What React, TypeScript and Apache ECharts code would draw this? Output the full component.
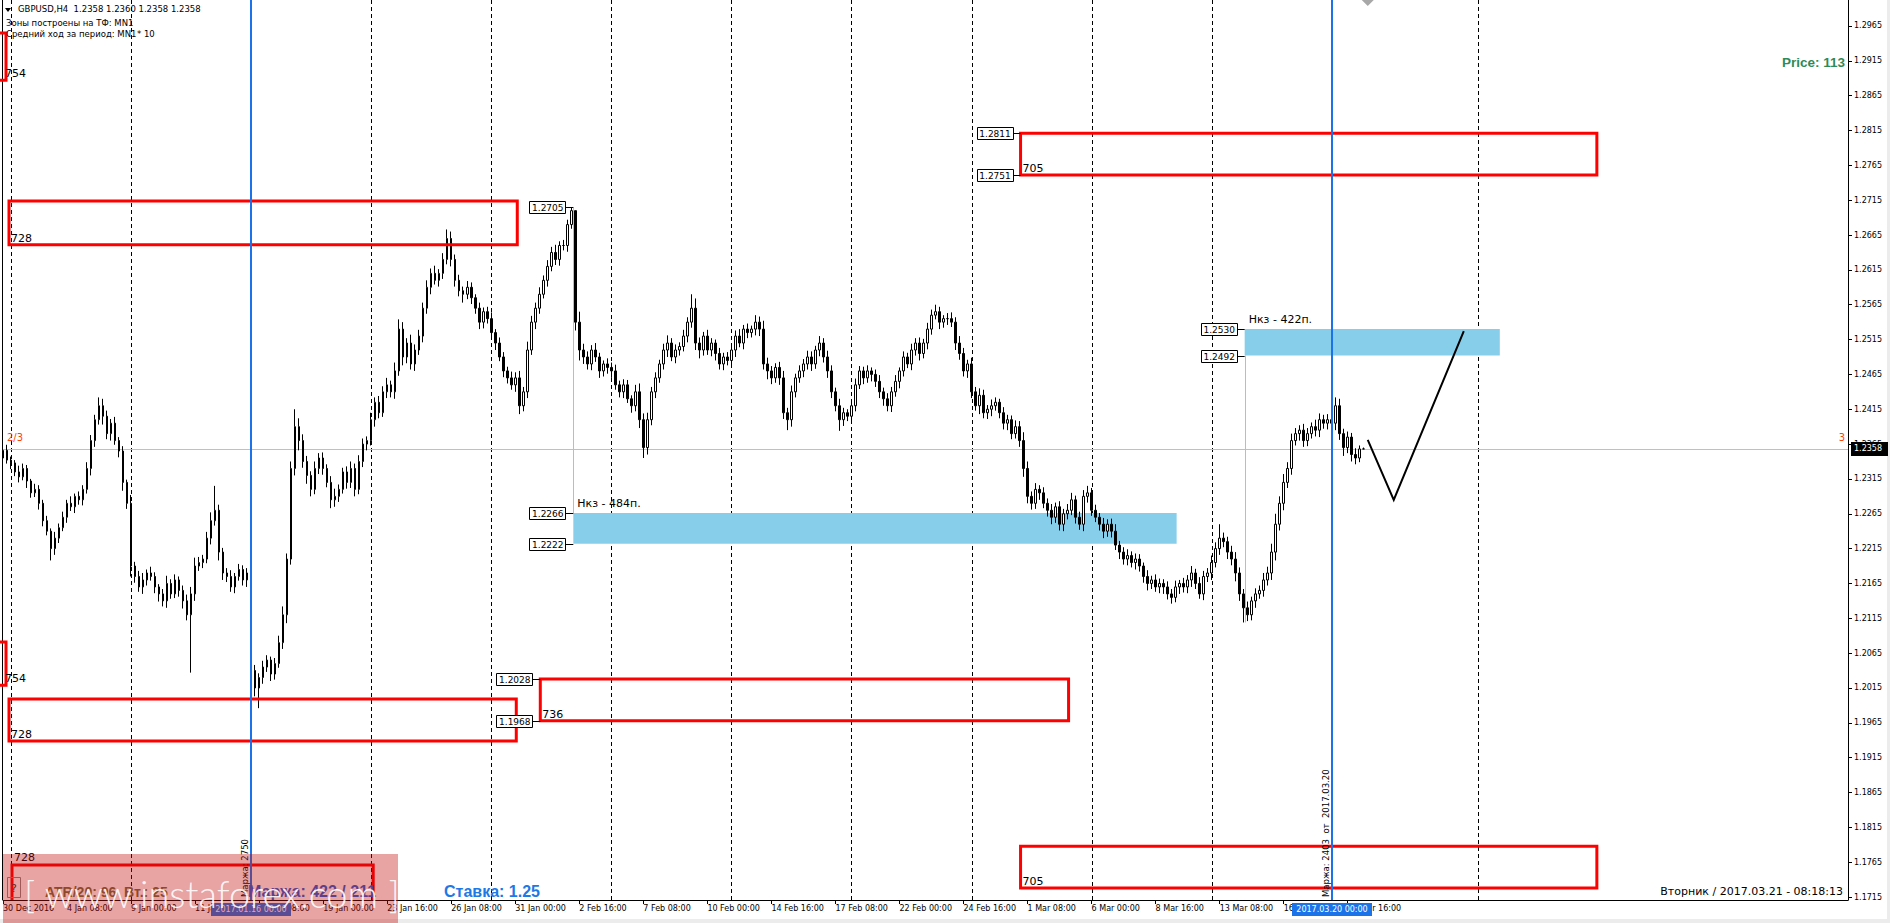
import React, { useEffect, useRef } from 'react';
import * as echarts from 'echarts';

// ---------- data ----------
const FIRST_OPEN = 2345; // pips over 1.0000
const CLOSES = [
  2356,2342,2338,2325,2318,2330,2312,2295,2300,2280,
  2255,2240,2215,2230,2245,2260,2280,2275,2290,2285,
  2300,2330,2370,2400,2420,2405,2380,2395,2370,2355,
  2310,2280,2190,2175,2160,2170,2180,2175,2160,2150,
  2140,2165,2150,2170,2155,2140,2120,2150,2190,2195,
  2200,2230,2255,2270,2210,2180,2175,2160,2175,2185,
  2170,2180,2040,2015,2030,2045,2055,2035,2050,2080,
  2120,2200,2330,2390,2370,2340,2320,2300,2330,2345,
  2330,2310,2285,2290,2300,2325,2310,2330,2300,2340,
  2365,2370,2400,2425,2410,2440,2450,2440,2470,2530,
  2490,2510,2480,2500,2520,2560,2590,2610,2600,2610,
  2630,2660,2630,2600,2585,2580,2590,2575,2560,2540,
  2555,2545,2525,2510,2490,2470,2460,2450,2460,2420,
  2440,2500,2540,2560,2580,2600,2620,2640,2630,2650,
  2650,2680,2700,2540,2500,2490,2480,2500,2490,2470,
  2480,2475,2470,2450,2440,2450,2430,2420,2440,2400,
  2360,2400,2440,2460,2480,2500,2510,2490,2500,2505,
  2520,2540,2560,2510,2500,2520,2500,2510,2495,2480,
  2490,2485,2500,2520,2510,2530,2525,2530,2540,2530,
  2480,2470,2460,2475,2460,2410,2400,2440,2460,2470,
  2480,2490,2480,2500,2510,2490,2470,2440,2420,2400,
  2410,2405,2420,2450,2470,2460,2470,2465,2455,2440,
  2430,2420,2440,2455,2470,2490,2480,2500,2510,2495,
  2510,2530,2550,2555,2540,2545,2545,2540,2510,2495,
  2470,2480,2440,2420,2435,2410,2415,2420,2425,2410,
  2395,2400,2380,2390,2370,2330,2290,2280,2300,2295,
  2280,2270,2260,2275,2250,2265,2270,2285,2260,2250,
  2290,2295,2270,2260,2250,2240,2250,2240,2220,2210,
  2200,2205,2195,2200,2190,2175,2165,2170,2160,2165,
  2160,2150,2145,2160,2165,2160,2170,2180,2165,2150,
  2175,2180,2195,2215,2230,2225,2210,2200,2180,2150,
  2130,2120,2140,2150,2155,2170,2180,2210,2250,2280,
  2310,2330,2370,2380,2385,2370,2380,2390,2385,2400,
  2395,2400,2395,2420,2380,2360,2375,2350,2345,2358,
  2358,
];
const UP_WICKS = [
  6,8,5,4,9,7,5,3,8,6,
  5,7,4,9,6,8,5,10,4,7,
  6,9,8,7,12,10,8,6,9,5,
  7,4,12,6,8,10,5,9,6,4,
  7,11,6,8,5,7,9,10,12,8,
  6,9,12,35,8,6,7,9,5,8,
  6,7,20,8,6,9,7,5,8,10,
  12,8,10,25,12,9,8,6,10,7,
  8,6,9,11,7,6,8,10,7,9,
  8,6,10,7,9,8,10,6,12,14,
  10,7,12,8,9,8,10,7,11,6,
  9,13,10,7,8,6,9,7,5,8,
  6,7,9,5,8,7,6,9,8,10,
  7,12,9,8,10,7,9,8,11,6,
  8,7,5,0,15,9,8,7,10,6,
  5,8,7,9,6,8,7,5,10,12,
  9,10,7,8,6,9,11,7,8,6,
  9,7,20,14,8,6,9,7,5,8,
  6,7,9,8,10,6,8,5,10,8,
  12,9,7,6,8,10,7,9,6,8,
  7,9,8,6,10,7,9,8,6,10,
  7,5,8,9,7,6,8,5,7,9,
  6,8,7,9,5,8,6,9,7,8,
  6,9,8,10,7,5,8,9,7,10,
  8,6,9,7,10,8,6,9,7,5,
  8,7,6,9,8,12,10,7,9,6,
  8,7,9,6,8,7,9,10,6,8,
  9,10,7,8,6,9,7,8,10,6,
  7,9,6,8,7,5,9,6,8,7,
  6,8,7,9,5,8,7,10,6,9,
  8,7,10,9,20,8,7,9,10,8,
  7,9,6,8,7,10,9,12,15,10,
  12,9,10,8,7,9,8,6,10,9,
  7,8,9,12,10,7,8,6,9,5,
  2,
];
const DOWN_WICKS = [
  7,5,9,6,8,5,10,7,6,9,
  8,6,17,9,7,5,8,6,9,7,
  8,6,10,9,7,12,8,10,6,9,
  12,8,15,9,7,10,8,6,9,11,
  8,10,7,6,9,11,8,83,10,7,
  8,6,9,7,12,10,8,7,9,6,
  8,10,15,12,29,9,7,10,8,6,
  9,12,8,10,14,9,12,10,7,8,
  9,7,12,10,8,6,9,8,10,7,
  8,9,7,10,8,6,9,8,10,7,
  12,9,8,10,7,9,8,10,6,9,
  8,7,10,9,8,12,7,9,8,10,
  9,7,8,10,6,9,8,7,10,12,
  8,9,7,10,8,6,9,7,8,9,
  7,9,6,12,15,10,8,9,7,10,
  8,9,10,7,8,9,6,10,8,12,
  15,10,8,9,7,8,10,6,9,8,
  7,9,8,10,12,8,7,9,10,8,
  9,7,8,10,6,9,8,7,9,10,
  8,12,9,7,10,9,15,10,8,7,
  9,8,10,7,9,8,10,9,8,16,
  9,7,10,8,6,9,7,10,8,9,
  10,8,9,7,10,8,6,9,8,10,
  7,9,8,6,10,8,9,7,10,9,
  8,10,9,7,12,8,9,10,7,8,
  9,10,8,7,9,12,10,9,8,10,
  7,9,10,8,9,10,8,7,9,8,
  10,9,8,7,9,10,8,9,7,10,
  8,9,7,10,8,9,10,8,7,9,
  10,8,9,7,10,8,9,10,8,7,
  9,8,10,7,9,8,10,9,12,10,
  21,9,8,10,7,9,8,10,12,9,
  10,8,9,7,10,9,8,7,9,10,
  8,9,7,10,9,12,8,10,9,6,
  0,
];

const N_SLOTS = 462; // visible bar slots (incl. empty future)
const LABEL_STEP = 16;
const TIME_LABELS = [
  '30 Dec 2016','4 Jan 08:00','9 Jan 00:00','11 Jan 16:00','16 Jan 08:00','19 Jan 00:00',
  '23 Jan 16:00','26 Jan 08:00','31 Jan 00:00','2 Feb 16:00','7 Feb 08:00','10 Feb 00:00',
  '14 Feb 16:00','17 Feb 08:00','22 Feb 00:00','24 Feb 16:00','1 Mar 08:00','6 Mar 00:00',
  '8 Mar 16:00','13 Mar 08:00','16 Mar 00:00','20 Mar 16:00',
];
const PRICE_TICKS = [
  1.1715,1.1765,1.1815,1.1865,1.1915,1.1965,1.2015,1.2065,1.2115,1.2165,1.2215,1.2265,1.2315,
  1.2365,1.2415,1.2465,1.2515,1.2565,1.2615,1.2665,1.2715,1.2765,1.2815,1.2865,1.2915,1.2965,
];
const Y_MIN = 1.17107;
const Y_MAX = 1.30023;
const BID = 1.2358;

const RED_ZONES = [
  { label: '754', t0: -8, t1: 0.75, top: 1.2955, bottom: 1.2887, labelAt: 'bottom' },
  { label: '728', t0: 1.5, t1: 128.5, top: 1.2714, bottom: 1.2651, labelAt: 'bottom' },
  { label: '754', t0: -8, t1: 0.75, top: 1.2081, bottom: 1.2019, labelAt: 'bottom' },
  { label: '728', t0: 1.5, t1: 128.25, top: 1.1999, bottom: 1.1939, labelAt: 'bottom' },
  { label: '736', t0: 134.25, t1: 266.25, top: 1.2028, bottom: 1.1968, labelAt: 'bottom' },
  { label: '705', t0: 254.25, t1: 398.25, top: 1.2811, bottom: 1.2751, labelAt: 'bottom' },
  { label: '705', t0: 254.25, t1: 398.25, top: 1.1788, bottom: 1.1728, labelAt: 'bottom' },
  { label: '728', t0: 2.25, t1: 92.5, top: 1.1761, bottom: 1.1700, labelAt: 'top' },
];
const BLUE_ZONES = [
  { label: 'Нкз - 484п.', t0: 142.5, t1: 293.25, top: 1.2266, bottom: 1.2222, from: 1.2705 },
  { label: 'Нкз - 422п.', t0: 310.25, t1: 374, top: 1.2530, bottom: 1.2492, from: 1.2109 },
];
const PRICE_TAGS = [
  { t: 142.5, price: 1.2705 }, { t: 142.5, price: 1.2266 }, { t: 142.5, price: 1.2222 },
  { t: 134.25, price: 1.2028 }, { t: 134.25, price: 1.1968 },
  { t: 254.25, price: 1.2811 }, { t: 254.25, price: 1.2751 },
  { t: 310.25, price: 1.2530 }, { t: 310.25, price: 1.2492 },
];
const FORECAST = [[341, 1.2371], [347.5, 1.2285], [365, 1.2527]];
const SEPARATORS = [2, 32, 92, 122, 152, 182, 212, 242, 272, 302, 368.5];
const MARGIN_LINES = [
  { t: 62, date: '2017.01.16 00:00', text: 'Маржа: 2750' },
  { t: 332, date: '2017.03.20 00:00', text: 'Маржа: 2403  от  2017.03.20' },
];
const HEADER = ['GBPUSD,H4  1.2358 1.2360 1.2358 1.2358', 'Зоны построены на ТФ: MN1', 'Средний ход за период: MN1'];
const HEADER_TAIL = '* 10';
const PRICE_TEXT = 'Price: 113';
const CLOCK_TEXT = 'Вторник / 2017.03.21 - 08:18:13';
const ATR_TEXT = 'ATR/20: 96  Вт.: 25';
const MARGIN_TEXT = 'Маржа: 422 / 211';
const RATE_TEXT = 'Ставка: 1.25';
const WATERMARK = '[ www.instaforex.com ]';

// ---------- derived ----------
const CANDLES = CLOSES.map((c, i) => {
  const o = i === 0 ? FIRST_OPEN : CLOSES[i - 1];
  const hi = Math.max(o, c) + UP_WICKS[i];
  const lo = Math.min(o, c) - DOWN_WICKS[i];
  return [o, c, lo, hi].map((v) => 1 + v / 10000);
});
const SLOTS = Array.from({ length: N_SLOTS }, (_, i) => String(i));
const LAST_LABEL = (TIME_LABELS.length - 1) * LABEL_STEP;
const showAt = (i: number) => i % LABEL_STEP === 0 && i <= LAST_LABEL;

const F = 'DejaVu Sans';
const A = 'Liberation Sans';

export default function App() {
  const ref = useRef<HTMLDivElement>(null);
  useEffect(() => {
    const chart = echarts.init(ref.current!, null, { renderer: 'svg' });
    chart.setOption({
      animation: false,
      backgroundColor: '#ffffff',
      grid: { left: 2, right: 42, top: 0, bottom: 23, containLabel: false },
      xAxis: {
        type: 'category',
        data: SLOTS,
        boundaryGap: false,
        axisLine: { show: true, lineStyle: { color: '#000', width: 1 } },
        axisTick: { show: true, interval: (i: number) => showAt(i), length: 4, lineStyle: { color: '#000' } },
        axisLabel: {
          interval: (i: number) => showAt(i),
          formatter: (_v: string, i: number) => TIME_LABELS[i / LABEL_STEP] ?? '',
          align: 'left', margin: 4, fontSize: 8, fontFamily: F, color: '#000',
        },
        splitLine: { show: false },
      },
      yAxis: {
        type: 'value', position: 'right', min: Y_MIN, max: Y_MAX,
        axisLine: { show: true, lineStyle: { color: '#000' } },
        axisTick: { show: true, customValues: PRICE_TICKS, length: 4, lineStyle: { color: '#000' } },
        axisLabel: { customValues: PRICE_TICKS, formatter: (v: number) => v.toFixed(4), fontSize: 8, fontFamily: F, color: '#000', margin: 6 },
        splitLine: { show: false },
      },
      series: [{
        type: 'candlestick', data: CANDLES, barWidth: 2, large: false,
        itemStyle: { color: '#ffffff', color0: '#000000', borderColor: '#000000', borderColor0: '#000000', borderWidth: 1 },
      }],
    });

    const xa = chart.convertToPixel({ xAxisIndex: 0 }, 0) as number;
    const xb = chart.convertToPixel({ xAxisIndex: 0 }, 100) as number;
    const X = (t: number) => xa + ((xb - xa) * t) / 100;
    const Y = (p: number) => chart.convertToPixel({ yAxisIndex: 0 }, p) as number;
    const c = (v: number) => Math.round(v) + 0.5;
    const left = X(0), right = X(N_SLOTS - 1), bottom = Y(Y_MIN);
    const els: any[] = [];
    const txt = (x: number, y: number, text: string, o: any = {}, z = 100, extra: any = {}) =>
      els.push({ type: 'text', x, y, z, silent: true, ...extra, style: { text, fill: '#000', fontSize: 11, fontFamily: F, align: 'left', verticalAlign: 'middle', ...o } });

    // frame left
    els.push({ type: 'line', z: 1, silent: true, shape: { x1: c(left) - 1, y1: 0, x2: c(left) - 1, y2: bottom }, style: { stroke: '#000', lineWidth: 1 } });
    // separators
    SEPARATORS.forEach((t) => els.push({ type: 'line', z: 1, silent: true, shape: { x1: c(X(t)), y1: 0, x2: c(X(t)), y2: bottom }, style: { stroke: '#000', lineWidth: 1, lineDash: [4, 3] } }));
    // bid line
    els.push({ type: 'line', z: 1, silent: true, shape: { x1: left, y1: c(Y(BID)), x2: right, y2: c(Y(BID)) }, style: { stroke: '#c0c0c0', lineWidth: 1 } });
    // blue zones
    BLUE_ZONES.forEach((z) => {
      const x0 = X(z.t0), x1 = X(z.t1), y0 = Y(z.top), y1 = Y(z.bottom);
      els.push({ type: 'rect', z: 1, silent: true, shape: { x: x0, y: y0, width: x1 - x0, height: y1 - y0 }, style: { fill: '#87ceeb' } });
      const yf = Y(z.from);
      els.push({ type: 'line', z: 1, silent: true, shape: { x1: c(x0), y1: yf, x2: c(x0), y2: yf < y0 ? y0 : y1 }, style: { stroke: '#87ceeb', lineWidth: 1 } });
      txt(x0 + 4, y0 - 10, z.label, { fontSize: 11 });
    });
    // red zones
    RED_ZONES.forEach((z) => {
      const x0 = X(z.t0), x1 = X(z.t1), y0 = Y(z.top), y1 = Y(z.bottom);
      if (y1 > bottom) {
        els.push({ type: 'polyline', z: 100, silent: true, shape: { points: [[x0, bottom], [x0, y0], [x1, y0], [x1, bottom]] }, style: { fill: 'none', stroke: '#ff0000', lineWidth: 3 } });
      } else {
        els.push({ type: 'rect', z: 100, silent: true, shape: { x: x0, y: y0, width: x1 - x0, height: y1 - y0 }, style: { fill: 'none', stroke: '#ff0000', lineWidth: 3 } });
      }
      const lx = Math.max(x0, left) + 2;
      if (z.labelAt === 'top') txt(lx, y0 - 2, z.label, { verticalAlign: 'bottom', fontSize: 11 });
      else txt(lx, y1 - 1, z.label, { verticalAlign: 'bottom', fontSize: 11 });
    });
    // price tags
    PRICE_TAGS.forEach((p) => {
      const ax = X(p.t), ay = c(Y(p.price)), w = 36, h = 12, gap = 8;
      els.push({ type: 'line', z: 101, silent: true, shape: { x1: ax - gap, y1: ay, x2: ax, y2: ay }, style: { stroke: '#000', lineWidth: 1 } });
      els.push({ type: 'rect', z: 101, silent: true, shape: { x: c(ax - gap - w), y: ay - h / 2, width: w, height: h }, style: { fill: '#fff', stroke: '#000', lineWidth: 1 } });
      txt(ax - gap - w / 2 + 0.5, ay, p.price.toFixed(4), { align: 'center', fontSize: 9 }, 102);
    });
    // forecast
    els.push({ type: 'polyline', z: 100, silent: true, shape: { points: FORECAST.map(([t, p]) => [X(t), Y(p)]) }, style: { fill: 'none', stroke: '#000', lineWidth: 2 } });
    // margin lines (blue verticals) + date boxes + rotated texts
    MARGIN_LINES.forEach((m) => {
      const x = Math.round(X(m.t));
      els.push({ type: 'line', z: 100, silent: true, shape: { x1: x, y1: 0, x2: x, y2: bottom }, style: { stroke: '#1a73e8', lineWidth: 2 } });
      els.push({ type: 'rect', z: 100, silent: true, shape: { x: x - 40, y: bottom + 3, width: 80, height: 13 }, style: { fill: '#1a73e8' } });
      txt(x, bottom + 9.5, m.date, { align: 'center', fill: '#fff', fontSize: 8 }, 101);
      txt(x - 6, bottom - 3, m.text, { fontSize: 8.5 }, 100, { rotation: Math.PI / 2 });
    });
    // header
    els.push({ type: 'polygon', z: 100, silent: true, shape: { points: [[5, 8], [11, 8], [8, 12]] }, style: { fill: '#000' } });
    txt(18, 9, HEADER[0], { fontSize: 8.5 });
    txt(6, 23, HEADER[1], { fontSize: 8.5 });
    txt(6, 34, HEADER[2], { fontSize: 8.5 });
    txt(137, 34, HEADER_TAIL, { fontSize: 8.5 });
    // marker texts
    txt(7, Y(BID) - 11, '2/3', { fill: '#ff4500', fontSize: 10 });
    txt(right - 3, Y(BID) - 11, '3', { fill: '#ff4500', fontSize: 10, align: 'right' });
    txt(right - 3, 62, PRICE_TEXT, { fill: '#2e8b57', fontSize: 13.5, fontFamily: A, fontWeight: 'bold', align: 'right' });
    txt(right - 5, 891, CLOCK_TEXT, { fontSize: 11, align: 'right' });
    // bid price box
    els.push({ type: 'rect', z: 102, silent: true, shape: { x: right + 3, y: Y(BID) - 7, width: 37, height: 14 }, style: { fill: '#000' } });
    txt(right + 6, Y(BID), BID.toFixed(4), { fill: '#fff', fontSize: 8 }, 103);
    // chart shift marker
    const sx = X(341);
    els.push({ type: 'polygon', z: 100, silent: true, shape: { points: [[sx - 6, 0], [sx + 6, 0], [sx, 6]] }, style: { fill: '#a8a8a8' } });
    // info texts
    txt(444, 891, RATE_TEXT, { fill: '#1e78e6', fontSize: 16, fontFamily: A, fontWeight: 'bold' });
    txt(45, 892, ATR_TEXT, { fill: '#6f6f3a', fontSize: 14, fontFamily: A, fontWeight: 'bold' }, 150);
    txt(248, 891, MARGIN_TEXT, { fill: '#1f5fd8', fontSize: 16, fontFamily: A, fontWeight: 'bold' }, 150);
    els.push({ type: 'rect', z: 150, silent: true, shape: { x: 7.5, y: 877.5, width: 13, height: 20 }, style: { fill: 'none', stroke: '#888', lineWidth: 1 } });
    txt(14, 888, '?', { align: 'center', fontSize: 11, fill: '#333' }, 150);
    // window edges
    els.push({ type: 'rect', z: 90, silent: true, shape: { x: 0, y: 919, width: 1890, height: 4 }, style: { fill: '#ececec' } });
    els.push({ type: 'rect', z: 90, silent: true, shape: { x: 1887, y: 0, width: 3, height: 923 }, style: { fill: '#ececec' } });
    // watermark
    els.push({ type: 'rect', z: 200, silent: true, shape: { x: 3, y: 854, width: 395, height: 69 }, style: { fill: 'rgba(195,13,13,0.38)' } });
    txt(24, 893, WATERMARK, { fill: 'rgba(255,255,255,0.9)', fontSize: 38, fontFamily: 'Lato', fontWeight: 300 }, 210);

    chart.setOption({ graphic: { elements: els } });
    return () => chart.dispose();
  }, []);
  return <div ref={ref} style={{ position: 'fixed', left: 0, top: 0, width: 1890, height: 923 }} />;
}
